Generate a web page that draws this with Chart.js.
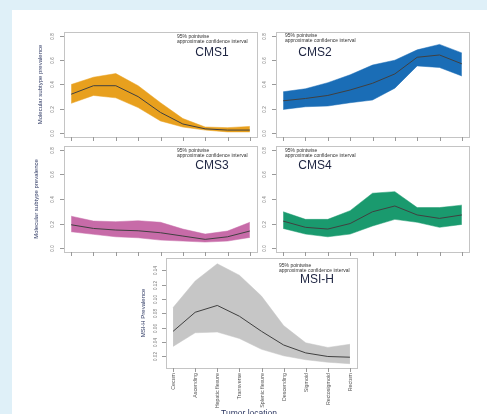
<!DOCTYPE html>
<html>
<head>
<meta charset="utf-8">
<script src="https://cdn.jsdelivr.net/npm/chart.js@4.4.1/dist/chart.umd.min.js"></script>
<style>
    html, body { margin: 0; padding: 0; background: #dff0f8; }
    #wrap { position: relative; width: 487px; height: 414px; overflow: hidden; }
    #sheet { position: absolute; left: 12px; top: 10px; right: 0; bottom: 0; background: #fff; }
    canvas { position: absolute; left: 0; top: 0; }
</style>
</head>
<body>
<div id="wrap">
    <div id="sheet"></div>
    <canvas id="cms1" width="487" height="414"></canvas>
    <canvas id="cms2" width="487" height="414"></canvas>
    <canvas id="cms3" width="487" height="414"></canvas>
    <canvas id="cms4" width="487" height="414"></canvas>
    <canvas id="msi" width="487" height="414"></canvas>
</div>
<script>
// DADOS
const locations = ['Cecum', 'Ascending', 'Hepatic flexure', 'Transverse', 'Splenic flexure', 'Descending', 'Sigmoid', 'Rectosigmoid', 'Rectum'];
const cmsTicks = [0, 0.2, 0.4, 0.6, 0.8];
const msiTicks = [0.02, 0.04, 0.06, 0.08, 0.10, 0.12, 0.14];

const cms1Fit   = [0.32, 0.39, 0.39, 0.30, 0.17, 0.075, 0.035, 0.025, 0.025];
const cms1Upper = [0.40, 0.46, 0.49, 0.39, 0.25, 0.12, 0.05, 0.045, 0.055];
const cms1Lower = [0.245, 0.31, 0.29, 0.21, 0.10, 0.05, 0.025, 0.01, 0.01];

const cms2Fit   = [0.266, 0.285, 0.31, 0.355, 0.41, 0.487, 0.624, 0.643, 0.57];
const cms2Upper = [0.34, 0.365, 0.415, 0.48, 0.56, 0.60, 0.685, 0.73, 0.66];
const cms2Lower = [0.195, 0.217, 0.223, 0.25, 0.272, 0.37, 0.553, 0.54, 0.47];

const cms3Fit   = [0.19, 0.16, 0.147, 0.141, 0.125, 0.098, 0.071, 0.092, 0.139];
const cms3Upper = [0.26, 0.22, 0.215, 0.223, 0.21, 0.155, 0.114, 0.139, 0.21];
const cms3Lower = [0.133, 0.112, 0.092, 0.084, 0.065, 0.057, 0.049, 0.057, 0.087];

const cms4Fit   = [0.22, 0.169, 0.155, 0.20, 0.296, 0.343, 0.27, 0.242, 0.27];
const cms4Upper = [0.296, 0.234, 0.234, 0.305, 0.447, 0.46, 0.33, 0.33, 0.35];
const cms4Lower = [0.16, 0.114, 0.092, 0.114, 0.18, 0.234, 0.21, 0.169, 0.193];

const msiFit   = [0.055, 0.0815, 0.091, 0.076, 0.055, 0.036, 0.025, 0.020, 0.019];
const msiUpper = [0.088, 0.125, 0.149, 0.133, 0.104, 0.063, 0.039, 0.0326, 0.037];
const msiLower = [0.034, 0.053, 0.054, 0.045, 0.030, 0.021, 0.0155, 0.012, 0.010];

const NOTE = ['95% pointwise', 'approximate confidence interval'];
const FONT = '"Liberation Sans", Arial, sans-serif';

// PAINEIS
const panels = [
    { id: 'cms1', label: 'CMS1', fit: cms1Fit, upper: cms1Upper, lower: cms1Lower, color: '#e8a01e',
      ticks: cmsTicks, digits: 1, ymin: -0.032, ymax: 0.832, box: [64, 32, 257, 137],
      tickX: 53, title: 'Molecular subtype prevalence', titleX: 40, labelAt: [212, 53], noteAt: [177, 34] },
    { id: 'cms2', label: 'CMS2', fit: cms2Fit, upper: cms2Upper, lower: cms2Lower, color: '#1a6db6',
      ticks: cmsTicks, digits: 1, ymin: -0.032, ymax: 0.832, box: [276, 32, 469, 137],
      tickX: 265, labelAt: [315, 53], noteAt: [285, 33] },
    { id: 'cms3', label: 'CMS3', fit: cms3Fit, upper: cms3Upper, lower: cms3Lower, color: '#c76ba8',
      ticks: cmsTicks, digits: 1, ymin: -0.032, ymax: 0.832, box: [64, 146, 257, 252],
      tickX: 53, title: 'Molecular subtype prevalence', titleX: 36, labelAt: [212, 166], noteAt: [177, 148] },
    { id: 'cms4', label: 'CMS4', fit: cms4Fit, upper: cms4Upper, lower: cms4Lower, color: '#1a9a6e',
      ticks: cmsTicks, digits: 1, ymin: -0.032, ymax: 0.832, box: [276, 146, 469, 252],
      tickX: 265, labelAt: [315, 166], noteAt: [285, 148] },
    { id: 'msi', label: 'MSI-H', fit: msiFit, upper: msiUpper, lower: msiLower, color: '#c6c6c6',
      ticks: msiTicks, digits: 2, ymin: 0.004, ymax: 0.157, box: [166, 258, 357, 368],
      tickX: 156, title: 'MSI-H Prevalence', titleX: 143, labelAt: [317, 280], noteAt: [279, 263],
      xLabels: true, xTitle: 'Tumor location' }
];

const toPoints = (arr) => arr.map((v, i) => ({ x: i + 1, y: v }));

const rotText = (ctx, txt, x, y, align) => {
    ctx.save();
    ctx.translate(x, y);
    ctx.rotate(-Math.PI / 2);
    ctx.textAlign = align;
    ctx.textBaseline = 'middle';
    ctx.fillText(txt, 0, 0);
    ctx.restore();
};

// moldura estilo R: caixa, ticks e textos
const rFrame = {
    id: 'rFrame',
    afterDraw: (chart, args, p) => {
        const ctx = chart.ctx;
        const a = chart.chartArea;
        const xs = chart.scales.x;
        const ys = chart.scales.y;
        ctx.save();
        ctx.strokeStyle = '#c4c4c4';
        ctx.lineWidth = 1;
        ctx.strokeRect(Math.round(a.left) + 0.5, Math.round(a.top) + 0.5, Math.round(a.right - a.left), Math.round(a.bottom - a.top));

        ctx.strokeStyle = '#999';
        ctx.fillStyle = '#777';
        ctx.font = '4.5px ' + FONT;
        p.ticks.forEach(v => {
            const y = Math.round(ys.getPixelForValue(v)) + 0.5;
            ctx.beginPath();
            ctx.moveTo(a.left - 4, y);
            ctx.lineTo(a.left, y);
            ctx.stroke();
            rotText(ctx, v.toFixed(p.digits), p.tickX, y, 'center');
        });
        locations.forEach((loc, i) => {
            const x = Math.round(xs.getPixelForValue(i + 1)) + 0.5;
            ctx.beginPath();
            ctx.moveTo(x, a.bottom);
            ctx.lineTo(x, a.bottom + 4);
            ctx.stroke();
            if (p.xLabels) {
                ctx.fillStyle = '#555';
                ctx.font = '5.3px ' + FONT;
                rotText(ctx, loc, x, a.bottom + 5, 'right');
            }
        });

        if (p.title) {
            ctx.fillStyle = '#2a3560';
            ctx.font = '6px ' + FONT;
            rotText(ctx, p.title, p.titleX, (a.top + a.bottom) / 2, 'center');
        }
        if (p.xTitle) {
            ctx.fillStyle = '#2a3560';
            ctx.font = '8.5px ' + FONT;
            ctx.textAlign = 'center';
            ctx.textBaseline = 'top';
            ctx.fillText(p.xTitle, 249, 409);
        }

        ctx.fillStyle = '#333';
        ctx.font = '5px ' + FONT;
        ctx.textAlign = 'left';
        ctx.textBaseline = 'top';
        ctx.fillText(NOTE[0], p.noteAt[0], p.noteAt[1]);
        ctx.fillText(NOTE[1], p.noteAt[0], p.noteAt[1] + 5);

        ctx.fillStyle = '#1c2340';
        ctx.font = '12px ' + FONT;
        ctx.textAlign = 'center';
        ctx.textBaseline = 'middle';
        ctx.fillText(p.label, p.labelAt[0], p.labelAt[1]);
        ctx.restore();
    }
};

panels.forEach(p => {
    const [l, t, r, b] = p.box;
    new Chart(document.getElementById(p.id), {
        type: 'line',
        data: {
            datasets: [
                { data: toPoints(p.fit), borderColor: '#404040', borderWidth: 1, pointRadius: 0, fill: false },
                { data: toPoints(p.upper), borderColor: p.color, borderWidth: 0.5, backgroundColor: p.color, pointRadius: 0, fill: '+1' },
                { data: toPoints(p.lower), borderColor: p.color, borderWidth: 0.5, pointRadius: 0, fill: false }
            ]
        },
        options: {
            responsive: false,
            animation: false,
            events: [],
            layout: { padding: { left: l, top: t, right: 487 - r, bottom: 414 - b } },
            scales: {
                x: { type: 'linear', min: 0.68, max: 9.32, display: false },
                y: { min: p.ymin, max: p.ymax, display: false }
            },
            plugins: {
                legend: { display: false },
                tooltip: { enabled: false },
                rFrame: p
            }
        },
        plugins: [rFrame]
    });
});
</script>
</body>
</html>
